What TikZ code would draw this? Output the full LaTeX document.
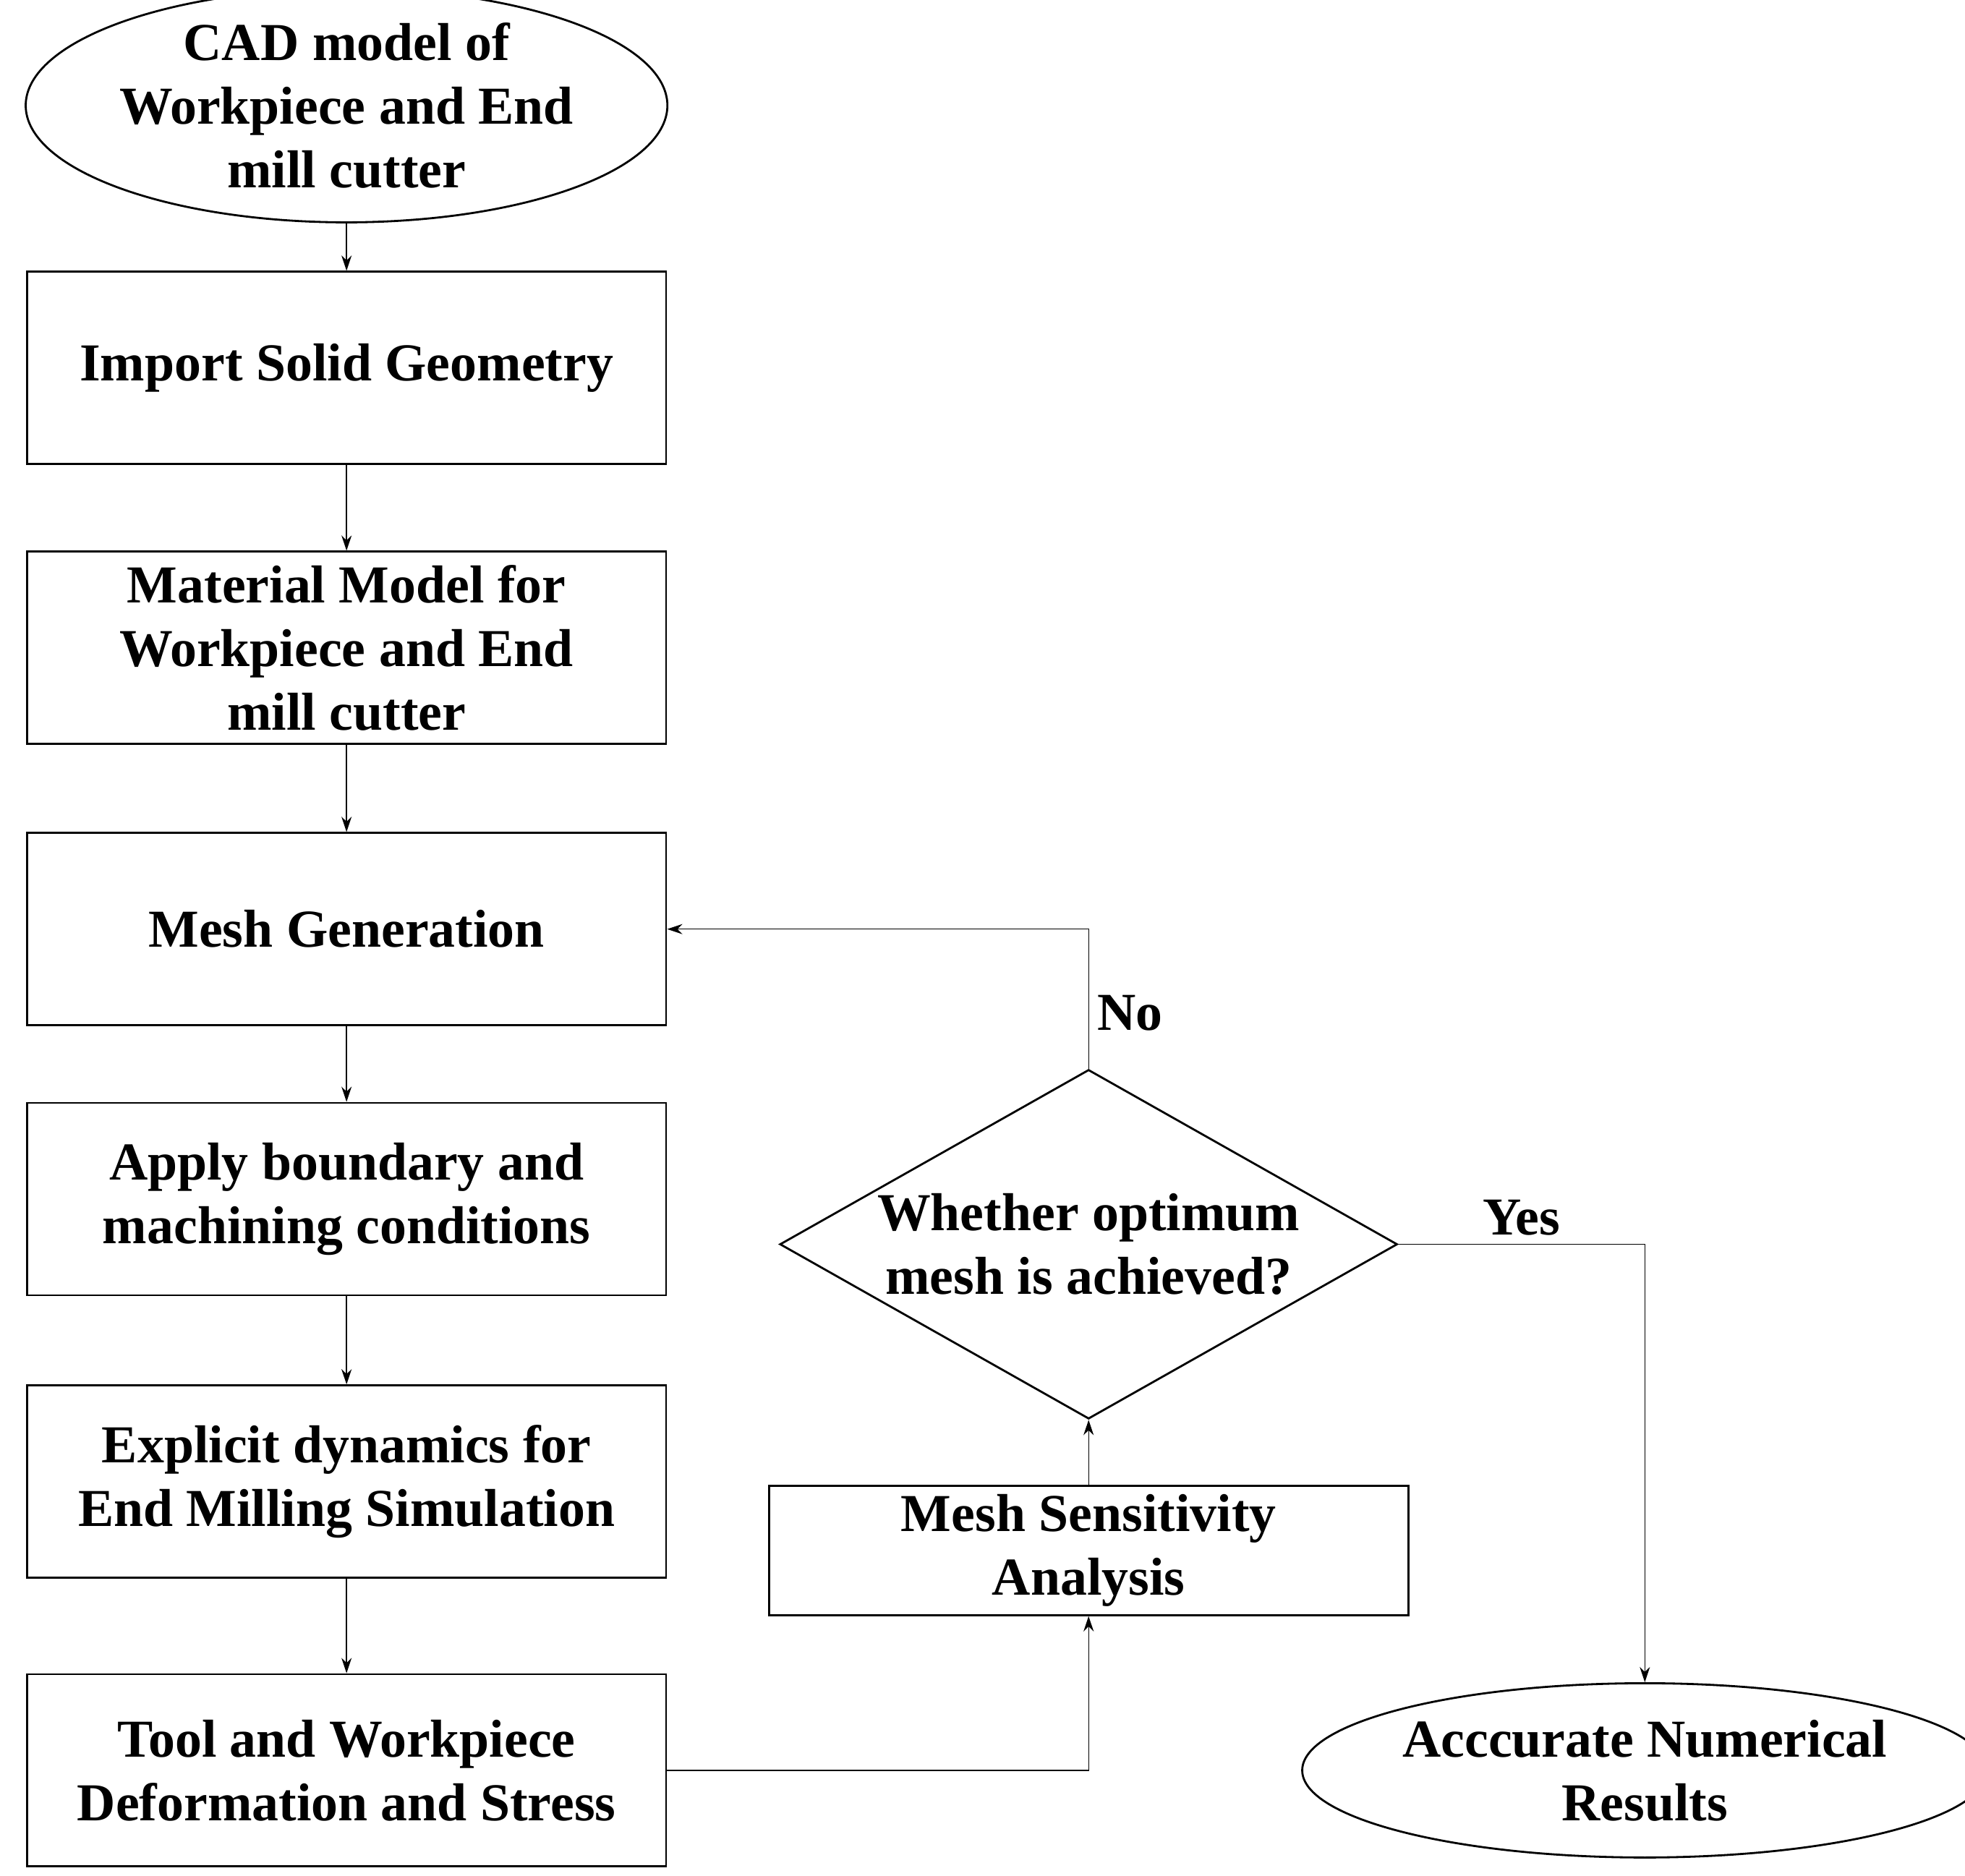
\documentclass[tikz,border=0pt]{standalone}
\usepackage{fontspec}
\setmainfont{Liberation Serif}
\usetikzlibrary{shapes.geometric,arrows.meta}
\begin{document}
\begin{tikzpicture}[x=0.01736cm,y=-0.01736cm,
box/.style={draw,thick,minimum width=8.84cm,minimum height=2.66cm,align=center,
  font=\fontsize{21}{25}\selectfont\bfseries},
term/.style={draw,ellipse,thick,minimum width=8.54cm,minimum height=2.41cm,inner sep=0pt,align=center,
  font=\fontsize{21}{25}\selectfont\bfseries},
lbl/.style={align=center,font=\fontsize{21}{25}\selectfont\bfseries},
flow/.style={-{Stealth[length=6pt,width=4pt]},thin}]

\useasboundingbox (0,0) rectangle (1565,1494);

% left column
\node[term] (cad) at (276,84) {CAD model of\\Workpiece and End\\mill cutter};
\node[box] (import) at (276,293) {Import Solid Geometry};
\node[box] (material) at (276,516) {Material Model for\\Workpiece and End\\mill cutter};
\node[box] (mesh) at (276,740) {Mesh Generation};
\node[box] (apply) at (276,955) {Apply boundary and\\machining conditions};
\node[box] (explicit) at (276,1180) {Explicit dynamics for\\End Milling Simulation};
\node[box] (deform) at (276,1410) {Tool and Workpiece\\Deformation and Stress};

% right side
\node[box,minimum height=1.67cm] (sens) at (867,1235) {Mesh Sensitivity\\Analysis};
\node[draw,thick,diamond,minimum width=8.54cm,minimum height=4.83cm,inner sep=0pt] (check) at (867,991) {};
\node[lbl] at (check.center) {Whether optimum\\mesh is achieved?};
\node[term] (result) at (1310,1410) {Acccurate Numerical\\Results};

\draw[flow] (cad) -- (import);
\draw[flow] (import) -- (material);
\draw[flow] (material) -- (mesh);
\draw[flow] (mesh) -- (apply);
\draw[flow] (apply) -- (explicit);
\draw[flow] (explicit) -- (deform);
\draw[flow] (deform.east) -| (sens.south);
\draw[flow] (sens) -- (check.south);
\draw[flow] (check.north) |- node[pos=0.2,right,lbl] {No} (mesh.east);
\draw[flow] (check.east) -| node[pos=0.25,above,lbl] {Yes} (result.north);
\end{tikzpicture}
\end{document}
